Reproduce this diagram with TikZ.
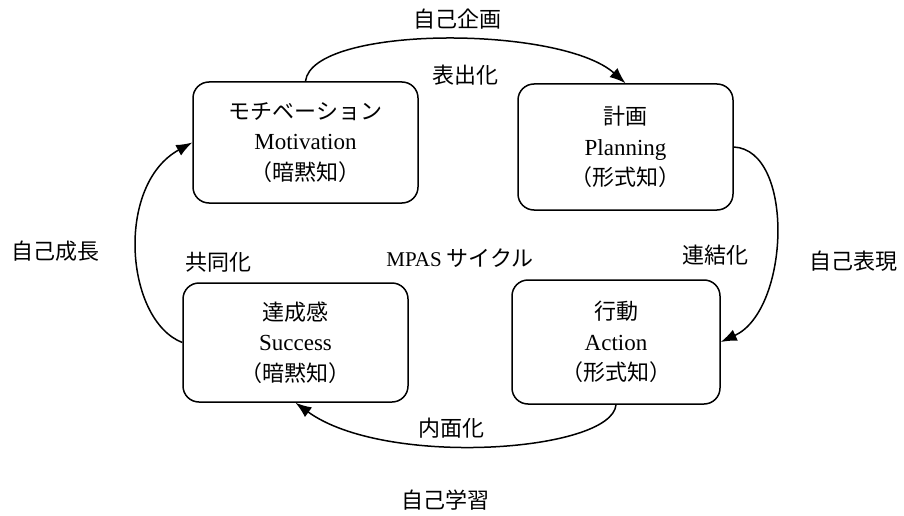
\documentclass[tikz,border=0pt]{standalone}
\usepackage{fontspec}
\setmainfont{Liberation Serif}
\newfontfamily\jp{Noto Sans CJK JP}
\usetikzlibrary{arrows.meta}
\newcommand{\jpl}[1]{{\jp\fontsize{22}{30}\selectfont #1}}
\begin{document}
\begin{tikzpicture}[x=1pt,y=-1pt,
  box/.style={draw, line width=1.5pt, rounded corners=16pt, align=center, inner sep=0pt,
    font=\fontsize{23}{30.5}\selectfont},
  lab/.style={font=\jp\fontsize{22}{24}\selectfont, inner sep=0pt},
  conn/.style={line width=1.5pt, -{Latex[length=16pt,width=12pt]}}]
\useasboundingbox (0,0) rectangle (904,516);
\node[box, minimum width=225pt, minimum height=121pt] (M) at (305.5,142.5)
  {\jpl{モチベーション}\\Motivation\\\jpl{（暗黙知）}};
\node[box, minimum width=215pt, minimum height=126pt] (P) at (625.5,147)
  {\jpl{計画}\\Planning\\\jpl{（形式知）}};
\node[box, minimum width=225pt, minimum height=119pt] (S) at (295.5,342.5)
  {\jpl{達成感}\\Success\\\jpl{（暗黙知）}};
\node[box, minimum width=208pt, minimum height=124pt] (A) at (616,342)
  {\jpl{行動}\\Action\\\jpl{（形式知）}};

\draw[conn] (M.north) .. controls (312,25) and (560,25) .. (P.north);
\draw[conn] (P.east) .. controls (795,150) and (790,310) .. (A.east);
\draw[conn] (A.south) .. controls (612,452) and (385,468) .. (S.south);
\draw[conn] (S.west) .. controls (125,320) and (115,185) .. (M.west);

\node[lab] (l1) at (457,19) {自己企画};
\node[lab] (l2) at (465,75) {表出化};
\node[lab] (l3) at (55,251) {自己成長};
\node[lab] (l4) at (218,262) {共同化};
\node[lab] (l5) at (460,258) {{\rmfamily\fontsize{21}{24}\selectfont MPAS} サイクル};
\node[lab] (l6) at (715,255) {連結化};
\node[lab] (l7) at (853,261) {自己表現};
\node[lab] (l8) at (451,428) {内面化};
\node[lab] (l9) at (445,500) {自己学習};
\end{tikzpicture}
\end{document}
